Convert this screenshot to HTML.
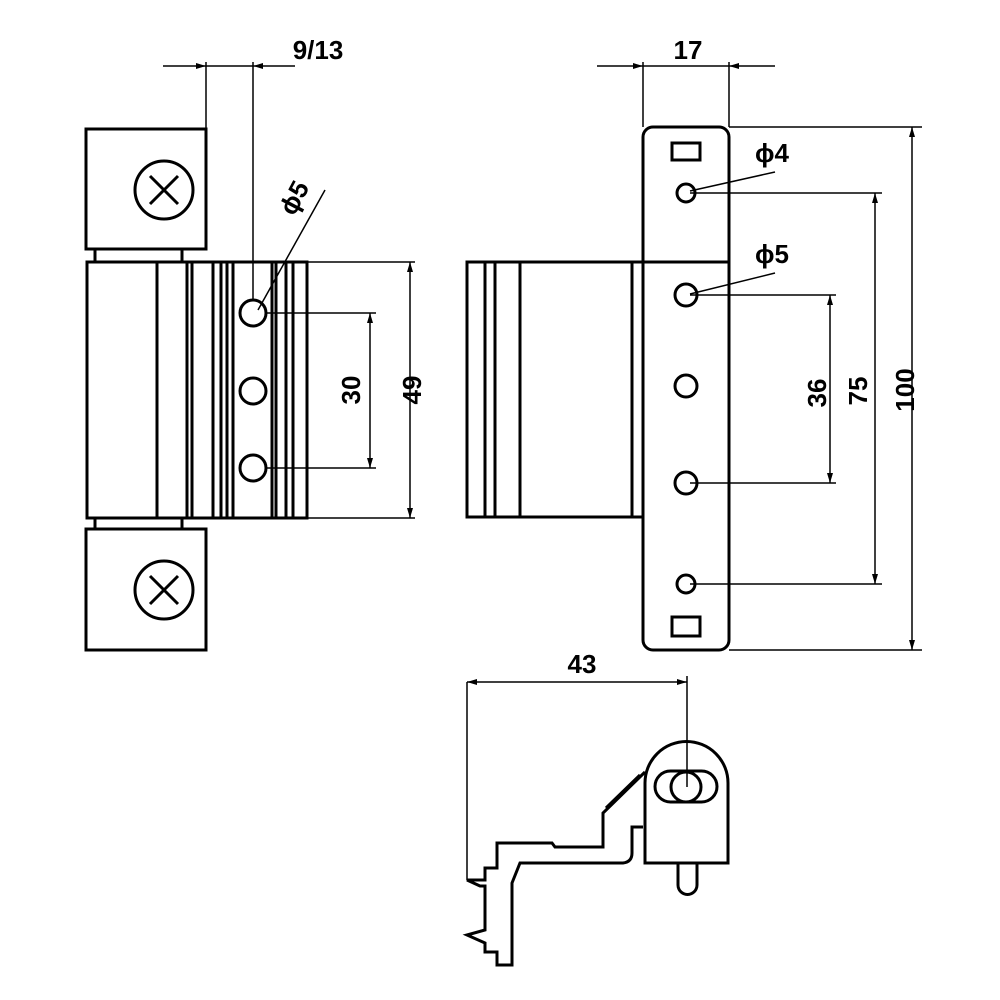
<!DOCTYPE html>
<html><head><meta charset="utf-8"><style>html,body{margin:0;padding:0;background:#fff}svg{display:block}</style></head>
<body>
<svg width="1000" height="1000" viewBox="0 0 1000 1000" xmlns="http://www.w3.org/2000/svg">
<defs>
<marker id="a" viewBox="0 0 10 6" refX="10" refY="3" markerWidth="10" markerHeight="6" orient="auto-start-reverse" markerUnits="userSpaceOnUse"><path d="M0,0 L10,3 L0,6 z" fill="#000"/></marker>
</defs>
<g fill="none" stroke="#000" stroke-width="3">
<rect x="86" y="129" width="120" height="120"/>
<circle cx="164" cy="190" r="29"/>
<path d="M150,176 L178,204 M178,176 L150,204"/>
<rect x="95" y="249" width="87" height="13"/>
<rect x="86" y="529" width="120" height="121"/>
<circle cx="164" cy="590" r="29"/>
<path d="M150,576 L178,604 M178,576 L150,604"/>
<rect x="95" y="518" width="87" height="11"/>
<rect x="87" y="262" width="220" height="256"/>
<path d="M157,262V518 M187,262V518 M192,262V518 M213,262V518 M221,262V518 M227,262V518 M233,262V518 M272,262V518 M276,262V518 M286,262V518 M293,262V518"/>
<circle cx="253" cy="313" r="13"/>
<circle cx="253" cy="391" r="13"/>
<circle cx="253" cy="468" r="13"/>
<rect x="643" y="127" width="86" height="523" rx="10"/>
<path d="M643,262H729"/>
<rect x="672" y="143" width="28" height="17"/>
<rect x="672" y="617" width="28" height="19"/>
<circle cx="686" cy="193" r="9"/>
<circle cx="686" cy="295" r="11"/>
<circle cx="686" cy="386" r="11"/>
<circle cx="686" cy="483" r="11"/>
<circle cx="686" cy="584" r="9"/>
<rect x="467" y="262" width="176" height="255"/>
<path d="M485,262V517 M495,262V517 M520,262V517 M632,262V517"/>
<path d="M645,863 V783 A41.5,41.5 0 0 1 728,783 V863 Z"/>
<rect x="655" y="771" width="62" height="31" rx="15.5"/>
<circle cx="686" cy="787" r="15"/>
<path d="M678,863 V885 A9.5,9.5 0 0 0 697,885 V863"/>
<path d="M645,772 L603,813 V847 H555 L552,843 H497 V868 H485 V880 H467 L480,886 H485 V930 L467,935 L485,943 V952 H497 V965 H512 V883 L520,863 H623 Q632,862 632,853 V827 H643"/>
<path d="M640,775 L606,808"/>
</g>
<g fill="none" stroke="#000" stroke-width="1.5">
<path d="M206,62V129 M253,62V300"/>
<path d="M163,66H206" marker-end="url(#a)"/>
<path d="M295,66H253" marker-end="url(#a)"/>
<path d="M206,66H253"/>
<path d="M307,262H415 M307,518H415"/>
<path d="M410,262V518" marker-start="url(#a)" marker-end="url(#a)"/>
<path d="M266,313H376 M266,468H376"/>
<path d="M370,313V468" marker-start="url(#a)" marker-end="url(#a)"/>
<path d="M325,190 L258,310"/>
<path d="M643,62V127 M729,62V127"/>
<path d="M597,66H643" marker-end="url(#a)"/>
<path d="M775,66H729" marker-end="url(#a)"/>
<path d="M643,66H729"/>
<path d="M729,127H922 M729,650H922"/>
<path d="M912,127V650" marker-start="url(#a)" marker-end="url(#a)"/>
<path d="M690,193H882 M690,584H882"/>
<path d="M875,193V584" marker-start="url(#a)" marker-end="url(#a)"/>
<path d="M690,295H836 M690,483H836"/>
<path d="M830,295V483" marker-start="url(#a)" marker-end="url(#a)"/>
<path d="M775,172 L690,191"/>
<path d="M775,273 L690,294"/>
<path d="M467,682V880 M687,676V787"/>
<path d="M467,682H687" marker-start="url(#a)" marker-end="url(#a)"/>
</g>
<g font-family="'Liberation Sans', sans-serif" font-weight="bold" font-size="26" fill="#000" text-anchor="middle">
<text x="318" y="59">9/13</text>
<text x="688" y="59">17</text>
<text x="772" y="162">ϕ4</text>
<text x="772" y="263">ϕ5</text>
<text x="582" y="673">43</text>
<text transform="translate(421,390) rotate(-90)">49</text>
<text transform="translate(360,390) rotate(-90)">30</text>
<text transform="translate(826,393) rotate(-90)">36</text>
<text transform="translate(867,391) rotate(-90)">75</text>
<text transform="translate(914,390) rotate(-90)">100</text>
<text transform="translate(302,202) rotate(-62)">ϕ5</text>
</g>
</svg>
</body></html>
